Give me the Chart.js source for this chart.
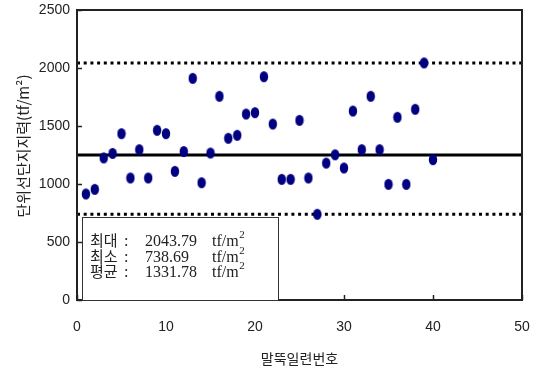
<!DOCTYPE html>
<html>
<head>
<meta charset="utf-8">
<script src="https://cdn.jsdelivr.net/npm/chart.js@4.4.0/dist/chart.umd.min.js"></script>
<style>
  html, body { margin: 0; padding: 0; background: #fff; }
</style>
</head>
<body>
<canvas id="myChart" width="536" height="374"></canvas>
<script>
// pile number vs unit end bearing capacity
var pileNo = [1, 2, 3, 4, 5, 6, 7, 8, 9, 10, 11, 12, 13, 14, 15, 16, 17, 18, 19, 20,
  21, 22, 23, 24, 25, 26, 27, 28, 29, 30, 31, 32, 33, 34, 35, 36, 37, 38, 39, 40];
var capacity = [914, 954, 1225, 1264, 1434, 1052, 1296, 1052, 1463, 1434,
  1109, 1280, 1911, 1011, 1267, 1756, 1394, 1420, 1603, 1615,
  1925, 1517, 1040, 1040, 1549, 1052, 738.69, 1180, 1252, 1138,
  1629, 1296, 1756, 1296, 997, 1575, 997, 1644, 2043.79, 1210];
var xTicks = [0, 10, 20, 30, 40, 50];
var yTicks = [0, 500, 1000, 1500, 2000, 2500];
var maxLine = 2043.79;
var minLine = 738.69;
var meanLine = 1250;
var statLabels = ['최대', '최소', '평균'];
var statValues = ['2043.79', '738.69', '1331.78'];
var statUnit = 'tf/m';
var statUnitSup = '2';
var xTitle = '말뚝일련번호';
var yTitle = '단위선단지지력(tf/m²)';

function hline(v, dash, width) {
  return {
    data: [{ x: 0, y: v }, { x: 50, y: v }],
    showLine: true,
    borderColor: '#000',
    borderWidth: width,
    borderDash: dash,
    borderCapStyle: 'butt',
    pointRadius: 0
  };
}

window.onload = function () {
  var dot = document.createElement('canvas');
  dot.width = 10;
  dot.height = 13;
  var d = dot.getContext('2d');
  d.fillStyle = '#000080';
  d.beginPath();
  d.ellipse(5, 6.5, 4.2, 5.6, 0, 0, 2 * Math.PI);
  d.fill();

  var frame = {
    id: 'frame',
    afterDraw: function (chart) {
      var ctx = chart.ctx;
      var a = chart.chartArea;
      var xs = chart.scales.x, ys = chart.scales.y;
      ctx.save();
      ctx.strokeStyle = '#222';
      ctx.lineWidth = 2;
      ctx.strokeRect(a.left, a.top, a.right - a.left, a.bottom - a.top);
      // inward tick marks
      ctx.lineWidth = 1.5;
      ctx.beginPath();
      xTicks.forEach(function (t) {
        var px = Math.round(xs.getPixelForValue(t)) + 0.5;
        ctx.moveTo(px, a.bottom);
        ctx.lineTo(px, a.bottom - 5);
      });
      yTicks.forEach(function (t) {
        var py = Math.round(ys.getPixelForValue(t)) + 0.5;
        ctx.moveTo(a.left, py);
        ctx.lineTo(a.left + 5, py);
      });
      ctx.stroke();

      // stats box
      var bx = a.left + 5, by = 217, bw = 196, bh = a.bottom - by;
      ctx.fillStyle = '#fff';
      ctx.fillRect(bx, by, bw, bh);
      ctx.strokeStyle = '#333';
      ctx.lineWidth = 1;
      ctx.strokeRect(bx + 0.5, by + 0.5, bw, bh);
      ctx.fillStyle = '#222';
      ctx.textBaseline = 'alphabetic';
      for (var i = 0; i < statLabels.length; i++) {
        var base = 246 + i * 15.7;
        ctx.font = '15px "Noto Sans CJK KR"';
        ctx.fillText(statLabels[i], bx + 8, base);
        ctx.font = '16px "Liberation Serif"';
        ctx.fillText(':', bx + 42, base);
        ctx.fillText(statValues[i], bx + 63, base);
        ctx.fillText(statUnit, bx + 130, base);
        var uw = ctx.measureText(statUnit).width;
        ctx.font = '11px "Liberation Serif"';
        ctx.fillText(statUnitSup, bx + 130 + uw + 0.5, base - 8);
      }

      // y axis title
      ctx.translate(23, 146);
      ctx.rotate(-Math.PI / 2);
      ctx.textAlign = 'center';
      ctx.textBaseline = 'middle';
      ctx.font = '15px "Noto Sans CJK KR"';
      ctx.fillStyle = '#222';
      ctx.fillText(yTitle, 0, 0);
      ctx.restore();
    }
  };

  var ctx = document.getElementById('myChart');
  var myChart = new Chart(ctx, {
    type: 'scatter',
    data: {
      datasets: [
        {
          data: pileNo.map(function (x, i) { return { x: x, y: capacity[i] }; }),
          pointStyle: dot,
          pointRadius: 5,
          showLine: false
        },
        hline(maxLine, [3, 3.7], 3),
        hline(meanLine, [], 3),
        hline(minLine, [3, 3.7], 3)
      ]
    },
    options: {
      responsive: false,
      animation: false,
      layout: { padding: { top: 10, right: 14, left: 0, bottom: 0 } },
      plugins: { legend: { display: false }, tooltip: { enabled: false } },
      scales: {
        x: {
          type: 'linear',
          min: 0,
          max: 50,
          afterBuildTicks: function (s) { s.ticks = xTicks.map(function (v) { return { value: v }; }); },
          afterFit: function (s) { s.height = 74; s.paddingLeft = 0; s.paddingRight = 0; },
          grid: { drawOnChartArea: false, drawTicks: false },
          border: { display: false },
          ticks: {
            padding: 19, color: '#222', font: { family: 'Liberation Sans', size: 14 },
            callback: function (v) { return String(v); }
          },
          title: {
            display: true,
            text: xTitle,
            color: '#222',
            padding: { top: 0, bottom: 7 },
            font: { family: 'Noto Sans CJK KR', size: 14 }
          }
        },
        y: {
          min: 0,
          max: 2500,
          afterBuildTicks: function (s) { s.ticks = yTicks.map(function (v) { return { value: v }; }); },
          afterFit: function (s) { s.width = 77; s.paddingTop = 0; s.paddingBottom = 0; },
          grid: { drawOnChartArea: false, drawTicks: false },
          border: { display: false },
          ticks: {
            padding: 7, color: '#222', font: { family: 'Liberation Sans', size: 14 },
            callback: function (v) { return String(v); }
          }
        }
      }
    },
    plugins: [frame]
  });
};
</script>
</body>
</html>
